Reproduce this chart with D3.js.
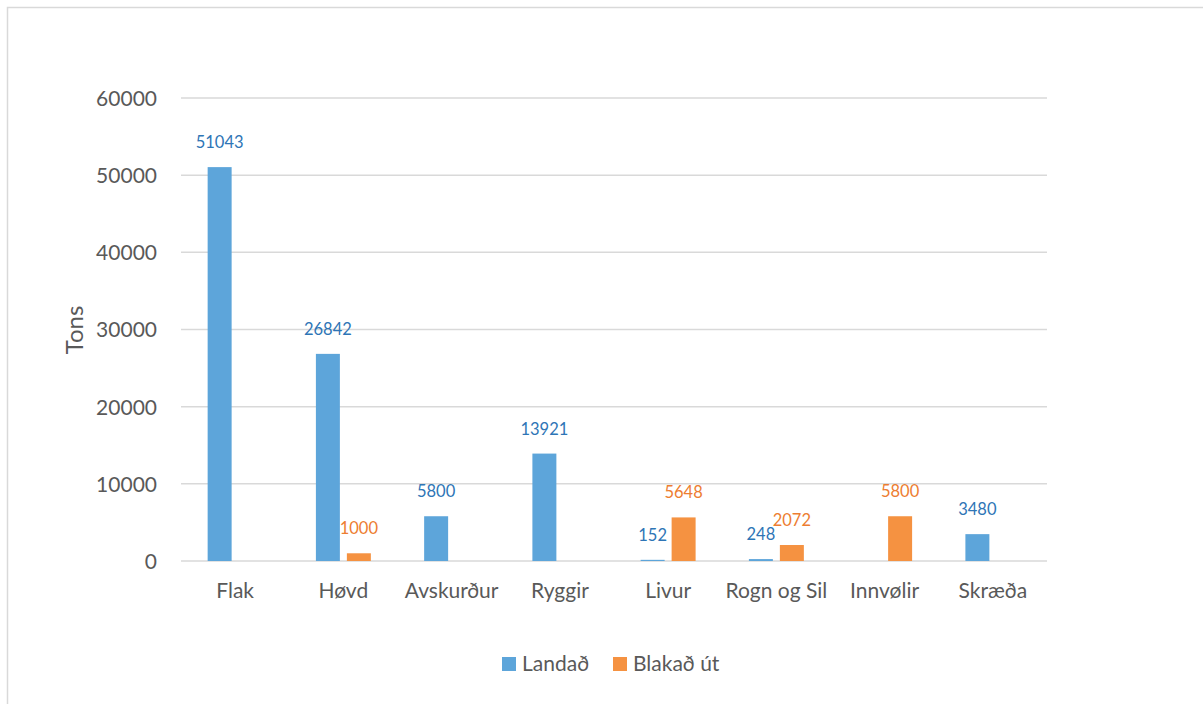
<!DOCTYPE html>
<html><head><meta charset="utf-8">
<script src="https://cdn.jsdelivr.net/npm/d3@7"></script>
<style>
html,body{margin:0;padding:0;background:#fff;}
svg text{font-family:Lato,"Open Sans",sans-serif;}
</style></head>
<body><svg id="c" width="1203" height="704"></svg>
<script>
const categories = ["Flak","Høvd","Avskurður","Ryggir","Livur","Rogn og Sil","Innvølir","Skræða"];
const seriesNames = ["Landað","Blakað út"];
const landad = [51043, 26842, 5800, 13921, 152, 248, null, 3480];
const blakad = [null, 1000, null, null, 5648, 2072, 5800, null];
const yTicks = [0,10000,20000,30000,40000,50000,60000];
const barColors = ["#5DA5DA","#F59241"];
const labelColors = ["#2E75B6","#ED7D31"];

(function(){
const svg = d3.select("#c");
svg.append("rect").attr("x",7.5).attr("y",7.5).attr("width",1200).attr("height",700)
  .attr("fill","#fff").attr("stroke","#d9d9d9").attr("stroke-width",1.5);

const pL=181,pR=1047,pT=98,pB=561;
const x0 = d3.scaleBand().domain(categories).range([pL,pR]).padding(0);
const x1 = d3.scaleBand().domain(seriesNames).range([0,x0.bandwidth()])
  .paddingInner(7/31).paddingOuter(0.86);
const y = d3.scaleLinear().domain([0,60000]).range([pB,pT]);

// gridlines
svg.append("g").selectAll("line").data(yTicks).join("line")
  .attr("x1",pL).attr("x2",pR)
  .attr("y1",d=>y(d)).attr("y2",d=>y(d))
  .attr("stroke","#d9d9d9").attr("stroke-width",1.5);

// y axis labels
const yAxis = d3.axisLeft(y).tickValues(yTicks).tickSize(0).tickPadding(0).tickFormat(d3.format("d"));
const gy = svg.append("g").attr("transform",`translate(${pL-24},0)`).call(yAxis);
gy.select(".domain").remove();
gy.selectAll("text").attr("font-size",21).attr("fill","#595959").attr("font-family","Lato,sans-serif").attr("dy","0.35em");

// x axis labels
const xAxis = d3.axisBottom(x0).tickSize(0).tickPadding(0);
const gx = svg.append("g").attr("transform",`translate(0,${pB+22})`).call(xAxis);
gx.select(".domain").remove();
gx.selectAll("text").attr("font-size",21).attr("fill","#595959").attr("font-family","Lato,sans-serif").attr("dy","0.71em");

// axis title
svg.append("text").attr("transform","translate(83,330) rotate(-90)")
  .attr("text-anchor","middle").attr("font-size",24).attr("fill","#595959").text("Tons");

const seriesData = [landad, blakad];
seriesData.forEach((vals,si)=>{
  const data = categories.map((c,i)=>({c, v:vals[i]})).filter(d=>d.v!==null);
  const g = svg.append("g");
  g.selectAll("rect").data(data).join("rect")
    .attr("x",d=>x0(d.c)+x1(seriesNames[si]))
    .attr("width",x1.bandwidth())
    .attr("y",d=>y(d.v))
    .attr("height",d=>y(0)-y(d.v))
    .attr("fill",barColors[si]);
  g.selectAll("text").data(data).join("text")
    .attr("x",d=>x0(d.c)+x1(seriesNames[si])+x1.bandwidth()/2)
    .attr("y",d=>y(d.v)-19)
    .attr("text-anchor","middle").attr("font-size",16.5)
    .attr("fill",labelColors[si]).text(d=>d.v);
});

// legend
const legX = [502, 613];
seriesNames.forEach((s,i)=>{
  svg.append("rect").attr("x",legX[i]).attr("y",657).attr("width",14).attr("height",14).attr("fill",barColors[i]);
  svg.append("text").attr("x",legX[i]+20).attr("y",664).attr("dy","0.35em")
    .attr("font-size",21).attr("fill","#595959").text(s);
});
})();
</script></body></html>
